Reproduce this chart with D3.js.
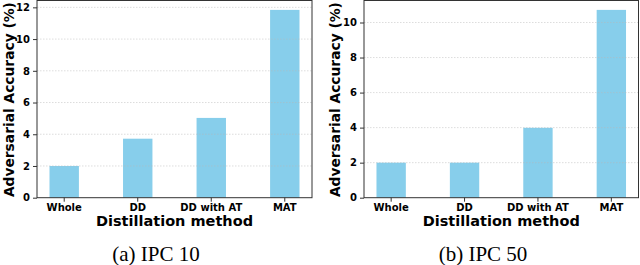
<!DOCTYPE html>
<html>
<head>
<meta charset="utf-8">
<script src="https://cdn.jsdelivr.net/npm/d3@7"></script>
<style>
  body { margin: 0; background: #fff; }
  svg { display: block; }
  .tick text { font-family: "DejaVu Sans", sans-serif; font-weight: bold; font-size: 10px; fill: #000; }
</style>
</head>
<body>
<svg id="chart" width="640" height="265"></svg>
<script>
// categories and values
var methods = ["Whole", "DD", "DD with AT", "MAT"];
var ipc10 = [2.0, 3.72, 5.03, 11.84];
var ipc50 = [2.0, 2.0, 3.99, 10.72];
var ticks10 = [0, 2, 4, 6, 8, 10, 12];
var ticks50 = [0, 2, 4, 6, 8, 10];
var captions = ["(a) IPC 10", "(b) IPC 50"];

var svg = d3.select("#chart");

// one panel per IPC setting
var panels = [
  { values: ipc10, ticks: ticks10, caption: captions[0], left: 37, right: 312, ylab: 9, capX: 156 },
  { values: ipc50, ticks: ticks50, caption: captions[1], left: 364, right: 638.5, ylab: 335, capX: 483 }
];

var plotTop = 0.5, plotBottom = 197.7;

panels.forEach(function(p) {
  var x = d3.scaleBand()
      .domain(methods)
      .range([p.left, p.right])
      .paddingInner(0.6)
      .paddingOuter(0.17);

  var y = d3.scaleLinear()
      .domain([0, d3.max(p.values) * 1.05])
      .range([plotBottom, plotTop]);

  var g = svg.append("g");

  // bars
  g.selectAll(".bar")
      .data(p.values)
      .enter().append("rect")
      .attr("x", function(d, i) { return x(methods[i]); })
      .attr("y", function(d) { return y(d); })
      .attr("width", x.bandwidth())
      .attr("height", function(d) { return plotBottom - y(d); })
      .attr("fill", "#87ceeb");

  // dotted grid, drawn over the bars faintly
  g.selectAll(".grid")
      .data(p.ticks.filter(function(t) { return t > 0; }))
      .enter().append("line")
      .attr("x1", p.left).attr("x2", p.right)
      .attr("y1", function(d) { return y(d); })
      .attr("y2", function(d) { return y(d); })
      .attr("stroke", "#b8b8b8")
      .attr("stroke-opacity", 0.6)
      .attr("stroke-width", 0.8)
      .attr("stroke-dasharray", "1.5,1.5");

  // frame
  g.append("rect")
      .attr("x", p.left).attr("y", plotTop)
      .attr("width", p.right - p.left).attr("height", plotBottom - plotTop)
      .attr("fill", "none")
      .attr("stroke", "#333")
      .attr("stroke-width", 1);

  // axes
  var ya = g.append("g")
      .attr("transform", "translate(" + p.left + ",0)")
      .call(d3.axisLeft(y).tickValues(p.ticks).tickFormat(d3.format("d")).tickSize(4).tickPadding(3));
  var xa = g.append("g")
      .attr("transform", "translate(0," + plotBottom + ")")
      .call(d3.axisBottom(x).tickSize(4).tickPadding(2));
  [ya, xa].forEach(function(a) {
    a.select(".domain").remove();
    a.selectAll(".tick line").attr("stroke", "#333");
  });

  // axis titles
  g.append("text")
      .attr("transform", "translate(" + p.ylab + "," + ((plotTop + plotBottom) / 2 + 0.5) + ") rotate(-90)")
      .attr("text-anchor", "middle")
      .attr("dominant-baseline", "central")
      .style("font-family", "DejaVu Sans, sans-serif")
      .style("font-weight", "bold")
      .style("font-size", "13.8px")
      .text("Adversarial Accuracy (%)");

  g.append("text")
      .attr("x", (p.left + p.right) / 2)
      .attr("y", 226)
      .attr("text-anchor", "middle")
      .style("font-family", "DejaVu Sans, sans-serif")
      .style("font-weight", "bold")
      .style("font-size", "14.5px")
      .text("Distillation method");

  // caption
  g.append("text")
      .attr("x", p.capX)
      .attr("y", 261)
      .attr("text-anchor", "middle")
      .style("font-family", "Liberation Serif, Times New Roman, serif")
      .style("font-size", "21px")
      .text(p.caption);
});
</script>
</body>
</html>
